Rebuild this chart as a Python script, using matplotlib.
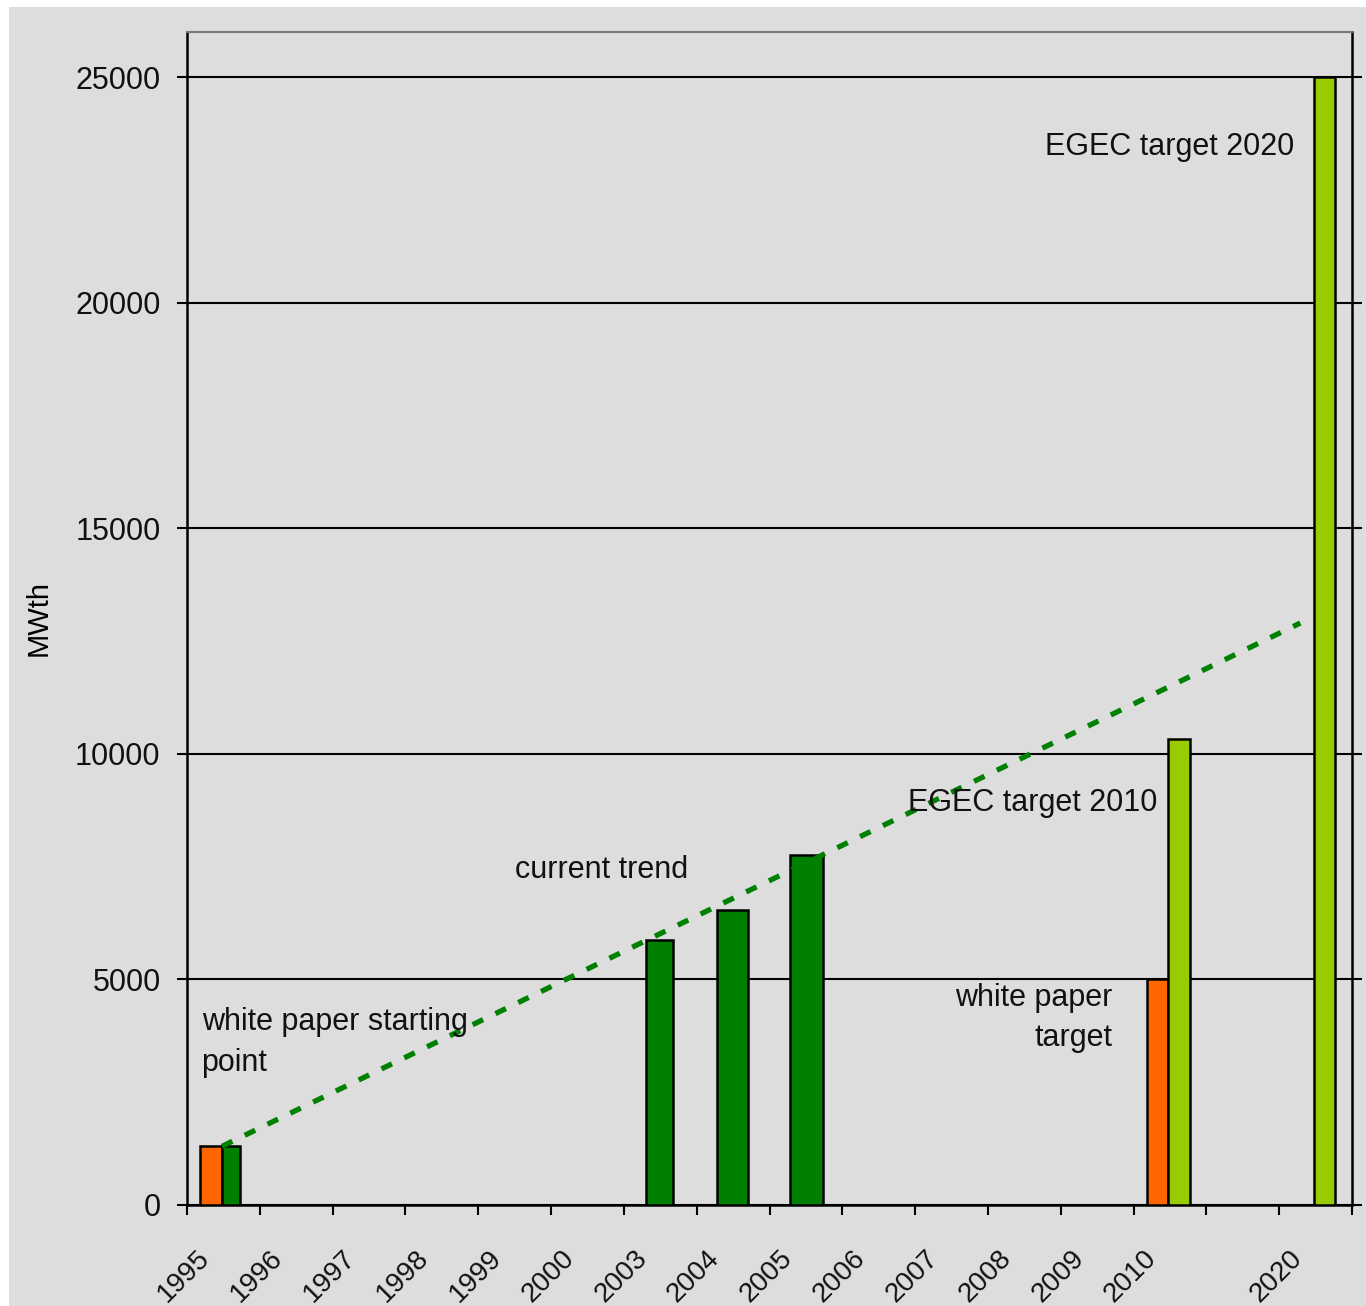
import matplotlib
matplotlib.use("Agg")
import matplotlib.pyplot as plt
from matplotlib.patches import Rectangle
from matplotlib.transforms import ScaledTranslation

# category labels sit on the tick marks (Excel style), bars sit between them
tick_labels = ["1995", "1996", "1997", "1998", "1999", "2000", "2003", "2004",
               "2005", "2006", "2007", "2008", "2009", "2010", "", "2020", ""]

# white paper (orange)
wp_slot = [0, 13]
wp_vals = [1300, 5000]

# actual installed capacity (dark green)
act_slot = [0, 6, 7, 8]
act_vals = [1300, 5870, 6530, 7750]

# EGEC targets (light green)
egec_slot = [13, 15]
egec_vals = [10340, 25000]

# current trend line
trend_x = [0.48, 15.29]
trend_y = [1300, 12900]

BG = "#dddddd"
ORANGE = "#ff6600"
DKGREEN = "#008000"
LTGREEN = "#99cc00"

plt.rcParams["font.family"] = ["Liberation Sans", "DejaVu Sans"]

fig = plt.figure(figsize=(13.66, 13.06), dpi=100, facecolor="white")
fig.patches.append(Rectangle((9 / 1366, 0), 1 - 9 / 1366, 1 - 7 / 1306,
                             transform=fig.transFigure, facecolor=BG,
                             edgecolor="none", zorder=-10))
ax = fig.add_axes([187 / 1366, 101 / 1306, 1165 / 1366, 1173 / 1306])
ax.set_facecolor(BG)

# bar geometry (offset inside a slot, width), in slot units
wp_off = {0: (0.18, 0.30), 13: (0.18, 0.29)}
act_off = {0: (0.48, 0.25), 6: (0.30, 0.37), 7: (0.28, 0.43), 8: (0.28, 0.45)}
egec_off = {13: (0.47, 0.30), 15: (0.48, 0.28)}

for s, v in zip(wp_slot, wp_vals):
    left, w = wp_off[s]
    ax.bar(s + left, v, width=w, align="edge", color=ORANGE,
           edgecolor="black", linewidth=1.8, zorder=3)
for s, v in zip(act_slot, act_vals):
    left, w = act_off[s]
    ax.bar(s + left, v, width=w, align="edge", color=DKGREEN,
           edgecolor="black", linewidth=1.8, zorder=3)
for s, v in zip(egec_slot, egec_vals):
    left, w = egec_off[s]
    ax.bar(s + left, v, width=w, align="edge", color=LTGREEN,
           edgecolor="black", linewidth=1.8, zorder=3)

ax.plot(trend_x, trend_y, color=DKGREEN, linewidth=3.8,
        linestyle=(0, (2.2, 2.6)), zorder=4)

ax.set_xlim(0, 16)
ax.set_ylim(0, 26000)
ax.set_yticks(range(0, 25001, 5000))
ax.yaxis.grid(True, color="black", linewidth=1.5, zorder=1)
ax.set_axisbelow(True)
ax.tick_params(axis="y", which="both", direction="out", length=7, width=1.5,
               labelsize=22, right=True, pad=12)
ax.set_yticklabels([str(v) for v in range(0, 25001, 5000)], color="#111111")

ax.set_xticks(range(len(tick_labels)))
ax.set_xticklabels(tick_labels, rotation=45, ha="right",
                   rotation_mode="anchor", fontsize=20, color="#111111")
ax.tick_params(axis="x", direction="out", length=7, width=1.5, pad=22)
shift = ScaledTranslation(10 / 100, 0, fig.dpi_scale_trans)
for lab in ax.get_xticklabels():
    lab.set_transform(lab.get_transform() + shift)

for side in ["left", "bottom", "right"]:
    ax.spines[side].set_color("black")
    ax.spines[side].set_linewidth(1.8)
ax.spines["top"].set_color("#777777")
ax.spines["top"].set_linewidth(1.5)

ax.set_ylabel("MWth", fontsize=21, labelpad=16)

txt = dict(fontsize=22, color="#111111", zorder=5)
ax.text(0.2, 4380, "white paper starting\npoint", ha="left", va="top",
        linespacing=1.45, **txt)
ax.text(4.5, 7420, "current trend", ha="left", va="center", **txt)
ax.text(9.9, 8900, "EGEC target 2010", ha="left", va="center", **txt)
ax.text(12.71, 4930, "white paper\ntarget", ha="right", va="top",
        linespacing=1.45, multialignment="right", **txt)
ax.text(11.79, 23450, "EGEC target 2020", ha="left", va="center", **txt)

fig.savefig("out.png", dpi=100, facecolor="white")
